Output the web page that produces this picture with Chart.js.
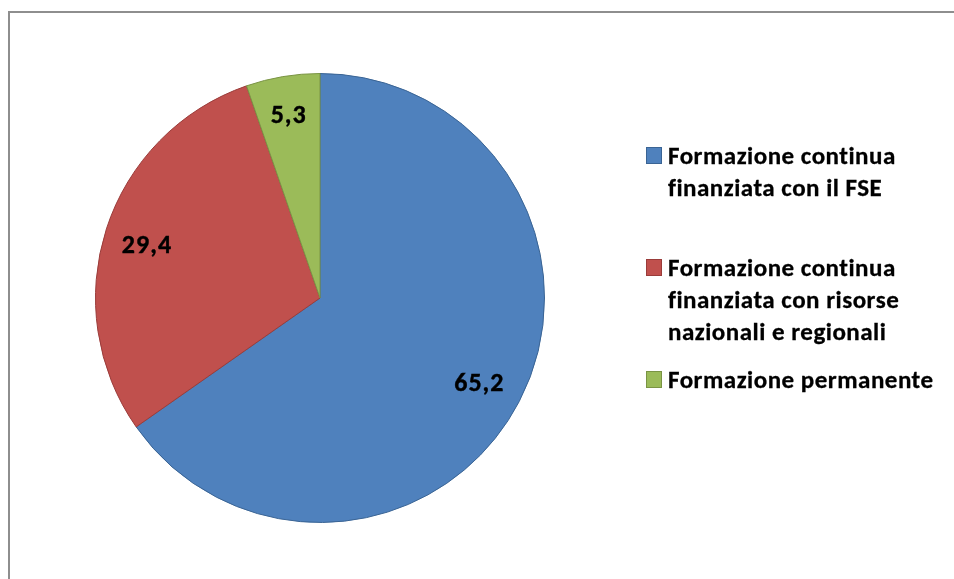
<!DOCTYPE html>
<html>
<head>
<meta charset="utf-8">
<script src="https://cdn.jsdelivr.net/npm/chart.js@4"></script>
<style>
  html, body { margin: 0; padding: 0; background: #fff; width: 954px; height: 579px; overflow: hidden; }
  #frame { position: absolute; left: 8px; top: 11px; width: 1000px; height: 700px; border-left: 2px solid #8e8e8e; border-top: 2px solid #8e8e8e; box-sizing: border-box; }
  #wrap { position: absolute; left: 0; top: 0; width: 954px; height: 579px; }
  #legend { position: absolute; left: 646px; top: 140px; font-family: Carlito, Lato, "Liberation Sans", sans-serif; font-weight: bold; font-size: 25px; letter-spacing: 0.5px; color: #000; -webkit-text-stroke: 0.3px #000; }
  .item { position: absolute; left: 0; white-space: nowrap; line-height: 32px; }
  .sw { position: absolute; left: 0; top: 7px; width: 14px; height: 15px; border: 1px solid; }
  .txt { position: absolute; left: 22px; top: 0; }
</style>
</head>
<body>
<div id="frame"></div>
<div id="wrap"><canvas id="c" width="954" height="579"></canvas></div>
<div id="legend"></div>
<script>
const categories = [
  ["Formazione continua", "finanziata con il FSE"],
  ["Formazione continua", "finanziata con risorse", "nazionali e regionali"],
  ["Formazione permanente"]
];
const values = [65.2, 29.4, 5.3];
const valueLabels = ["65,2", "29,4", "5,3"];
const fillColors = ["#4F81BD", "#C0504D", "#9BBB59"];
const edgeColors = ["#3A6494", "#9A3C3A", "#7A9444"];
const labelRadius = [0.80, 0.81, 0.84];

const labelPlugin = {
  id: 'sliceLabels',
  afterDatasetsDraw(chart) {
    const ctx = chart.ctx;
    const meta = chart.getDatasetMeta(0);
    ctx.save();
    ctx.font = 'bold 26px Carlito, Lato, "Liberation Sans", sans-serif';
    try { ctx.letterSpacing = '1px'; } catch (e) {}
    ctx.fillStyle = '#000';
    ctx.strokeStyle = '#000';
    ctx.lineWidth = 0.4;
    ctx.textAlign = 'center';
    ctx.textBaseline = 'middle';
    meta.data.forEach((arc, i) => {
      const p = arc.getProps(['x', 'y', 'startAngle', 'endAngle', 'outerRadius'], true);
      const mid = (p.startAngle + p.endAngle) / 2;
      const r = p.outerRadius * labelRadius[i];
      const x = p.x + Math.cos(mid) * r, y = p.y + Math.sin(mid) * r + 4;
      ctx.fillText(valueLabels[i], x, y);
      ctx.strokeText(valueLabels[i], x, y);
    });
    ctx.restore();
  }
};

new Chart(document.getElementById('c'), {
  type: 'pie',
  data: {
    labels: categories.map(c => c.join(' ')),
    datasets: [{
      data: values,
      backgroundColor: fillColors,
      borderColor: edgeColors,
      borderWidth: 1
    }]
  },
  options: {
    responsive: false,
    animation: false,
    layout: { padding: { left: 95, top: 73, right: 409, bottom: 56 } },
    plugins: { legend: { display: false }, tooltip: { enabled: false } }
  },
  plugins: [labelPlugin]
});

// HTML legend
const legendTops = [0, 112, 224];
const legend = document.getElementById('legend');
categories.forEach((lines, i) => {
  const item = document.createElement('div');
  item.className = 'item';
  item.style.top = legendTops[i] + 'px';
  const sw = document.createElement('div');
  sw.className = 'sw';
  sw.style.background = fillColors[i];
  sw.style.borderColor = edgeColors[i];
  const t = document.createElement('div');
  t.className = 'txt';
  t.innerHTML = lines.join('<br>');
  item.appendChild(sw);
  item.appendChild(t);
  legend.appendChild(item);
});
</script>
</body>
</html>
